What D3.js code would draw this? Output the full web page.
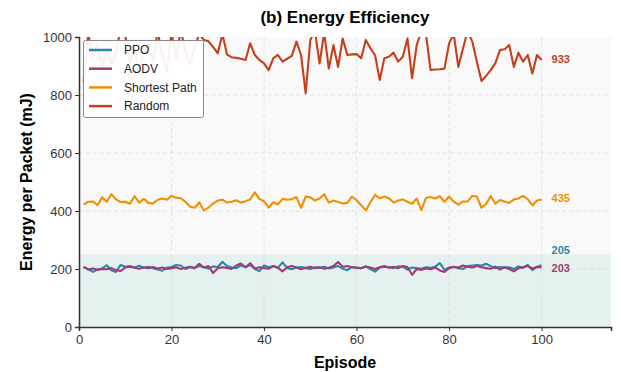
<!DOCTYPE html>
<html><head><meta charset="utf-8">
<script src="https://cdn.jsdelivr.net/npm/d3@7"></script>
<style>body{margin:0;background:#fff}svg{display:block}text{font-family:"Liberation Sans",Arial,sans-serif}</style>
</head><body><svg id="c" width="621" height="372"></svg>
<script>
const episodes = d3.range(1, 101);
const ppo = [205,200,190,198,202,213,196,190,214,208,210,205,211,204,208,203,198,194,205,207,214,212,200,206,204,210,206,202,209,207,225,210,205,203,212,207,214,200,193,212,206,210,204,223,203,199,205,207,203,200,206,204,208,202,205,210,201,196,207,205,203,210,200,191,205,208,207,203,209,208,198,205,203,201,206,204,208,220,197,205,208,203,200,210,212,214,212,218,210,203,207,205,206,200,209,204,214,196,208,213];
const aodv = [208,198,202,197,200,199,203,196,193,205,208,204,201,206,203,207,202,205,200,203,206,200,204,208,203,218,205,210,186,203,206,204,200,212,219,205,220,202,206,203,201,210,204,192,206,210,205,199,204,208,203,206,201,204,210,224,208,210,206,204,203,208,205,200,206,210,204,208,203,210,207,180,200,197,202,199,205,195,190,203,207,205,212,208,205,210,206,203,201,208,198,206,200,192,203,206,210,202,207,205];
const shortest = [422,432,433,420,447,432,458,440,431,432,425,451,429,442,428,426,439,443,439,452,446,444,432,415,411,430,402,412,426,436,439,429,432,437,429,434,440,464,442,433,412,430,423,442,439,441,448,411,450,447,436,443,458,429,436,431,426,428,450,437,420,402,430,456,444,450,444,429,436,440,432,425,443,403,445,448,443,451,432,450,432,422,433,433,452,450,411,424,452,425,438,433,428,440,443,452,441,419,436,440];
const random = [846,1010,930,975,890,960,905,945,1030,1005,910,955,890,940,980,915,1020,935,880,1015,925,1025,950,905,965,1010,990,985,965,944,1010,940,930,928,925,921,978,938,921,909,886,927,938,915,925,935,984,938,806,990,1020,909,1015,891,972,897,995,938,940,941,927,990,961,938,852,927,932,946,915,932,995,858,972,1020,1010,886,888,889,891,978,1010,897,960,1020,985,915,848,866,886,910,955,958,972,897,946,915,938,874,938,921];
const seriesNames = ["PPO","AODV","Shortest Path","Random"];
const seriesColors = ["#2E86AB","#A23B72","#F18F01","#C73E1D"];
const endLabels = ["205","203","435","933"];
const xTicks = [0,20,40,60,80,100];
const yTicks = [0,200,400,600,800,1000];

const svg = d3.select("#c");
const L=79,R=611,T=37,B=327;
const x = d3.scaleLinear().domain([0,115]).range([L,R]);
const y = d3.scaleLinear().domain([0,1000]).range([B,T]);

svg.append("rect").attr("x",L).attr("y",T).attr("width",R-L).attr("height",B-T).attr("fill","#f9f9f9");
svg.append("rect").attr("x",L).attr("y",y(250)).attr("width",R-L).attr("height",B-y(250)).attr("fill","#e4f1ee");

// grid
const g = svg.append("g");
xTicks.filter(d=>d>0).forEach(d=>g.append("line").attr("x1",x(d)).attr("x2",x(d)).attr("y1",T).attr("y2",B)
  .attr("stroke","#dcdcdc").attr("stroke-width",0.8).attr("stroke-dasharray","4,3"));
yTicks.filter(d=>d>0&&d<1000).forEach(d=>g.append("line").attr("x1",L).attr("x2",R).attr("y1",y(d)).attr("y2",y(d))
  .attr("stroke","#dcdcdc").attr("stroke-width",0.8).attr("stroke-dasharray","4,3"));

svg.append("defs").append("clipPath").attr("id","clip").append("rect").attr("x",L).attr("y",T).attr("width",R-L).attr("height",B-T);

const data = [ppo,aodv,shortest,random];
const line = d3.line().x((d,i)=>x(episodes[i])).y(d=>y(d));
const lg = svg.append("g").attr("clip-path","url(#clip)");
data.forEach((s,k)=>{
  lg.append("path").datum(s).attr("d",line).attr("fill","none").attr("stroke",seriesColors[k])
    .attr("stroke-width",2.1).attr("stroke-linejoin","round");
});

// end labels
const labelY = [y(205)-17, y(203), y(435)-3, y(933)+3];
endLabels.forEach((t,k)=>{
  svg.append("text").attr("x",x(100)+10).attr("y",labelY[k]).attr("dy","0.35em")
    .attr("fill",seriesColors[k]).attr("font-size",11).attr("font-weight","bold").text(t);
});

// axes
const ax = svg.append("g").attr("transform",`translate(0,${B})`).call(d3.axisBottom(x).tickValues(xTicks).tickFormat(d3.format("d")).tickSize(4).tickPadding(4));
ax.select(".domain").attr("stroke","#333").attr("stroke-width",1.5);
ax.selectAll("text").attr("font-size",13).attr("fill","#333");
ax.selectAll(".tick line").attr("stroke","#333");
const ay = svg.append("g").attr("transform",`translate(${L},0)`).call(d3.axisLeft(y).tickValues(yTicks).tickFormat(d3.format("d")).tickSize(4).tickPadding(3));
ay.select(".domain").attr("stroke","#333").attr("stroke-width",1.5);
ay.selectAll("text").attr("font-size",13).attr("fill","#333");
ay.selectAll(".tick line").attr("stroke","#333");

svg.append("text").attr("x",x(57.5)).attr("y",17).attr("dy","0.35em").attr("text-anchor","middle")
  .attr("font-size",17).attr("font-weight","bold").text("(b) Energy Efficiency");
svg.append("text").attr("x",345).attr("y",362).attr("dy","0.35em").attr("text-anchor","middle")
  .attr("font-size",16).attr("font-weight","bold").text("Episode");
svg.append("text").attr("transform","translate(26,182) rotate(-90)").attr("dy","0.35em").attr("text-anchor","middle")
  .attr("font-size",16).attr("font-weight","bold").text("Energy per Packet (mJ)");

// legend
const leg = svg.append("g");
leg.append("rect").attr("x",83.5).attr("y",40.5).attr("width",120).attr("height",77).attr("rx",2)
  .attr("fill","#fff").attr("fill-opacity",0.92).attr("stroke","#888").attr("stroke-width",1);
seriesNames.forEach((n,k)=>{
  const yy = 50 + k*18.7;
  leg.append("line").attr("x1",89).attr("x2",112).attr("y1",yy).attr("y2",yy).attr("stroke",seriesColors[k]).attr("stroke-width",2.5);
  leg.append("text").attr("x",124).attr("y",yy).attr("dy","0.35em").attr("font-size",12).attr("fill","#222").text(n);
});
</script></body></html>
